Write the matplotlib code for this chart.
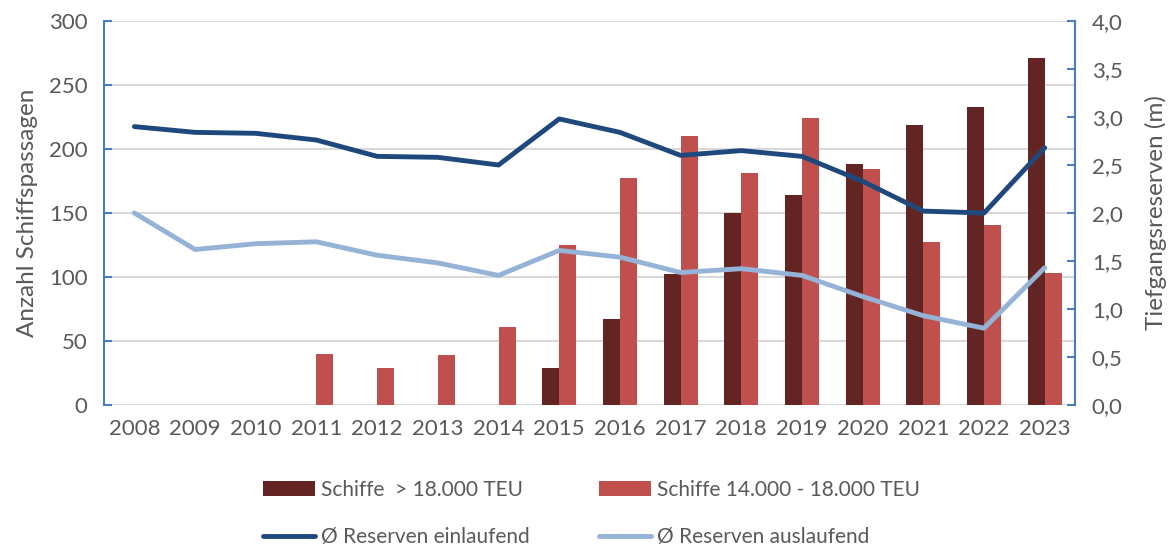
import numpy as np
import matplotlib
matplotlib.use("Agg")
import matplotlib.pyplot as plt

plt.rcParams['font.family'] = ['Lato', 'DejaVu Sans']

# Daten
jahre = [str(j) for j in range(2008, 2024)]
schiffe_gross = [0, 0, 0, 0, 0, 0, 0, 29, 67, 102, 150, 164, 188, 219, 233, 271]
schiffe_mittel = [0, 0, 0, 40, 29, 39, 61, 125, 177, 210, 181, 224, 184, 127, 141, 103]
reserve_ein = [2.90, 2.84, 2.83, 2.76, 2.59, 2.58, 2.50, 2.98, 2.84, 2.60, 2.65, 2.59, 2.33, 2.02, 2.00, 2.68]
reserve_aus = [2.00, 1.62, 1.68, 1.70, 1.56, 1.48, 1.35, 1.61, 1.54, 1.38, 1.42, 1.35, 1.13, 0.93, 0.80, 1.43]

grau = '#595959'
achse = '#4A7EBB'

fig = plt.figure(figsize=(11.73, 5.47), dpi=100)
ax = fig.add_axes([0.0887, 0.2596, 0.8278, 0.702])
ax2 = ax.twinx()

x = np.arange(len(jahre))
w = 0.28
b1 = ax.bar(x - w / 2, schiffe_gross, w, color='#632523', label='Schiffe  > 18.000 TEU', zorder=2)
b2 = ax.bar(x + w / 2, schiffe_mittel, w, color='#C0504D', label='Schiffe 14.000 - 18.000 TEU', zorder=2)
l1, = ax2.plot(x, reserve_ein, color='#1F497D', lw=3.5, solid_capstyle='round',
               label='Ø Reserven einlaufend')
l2, = ax2.plot(x, reserve_aus, color='#95B3D7', lw=3.5, solid_capstyle='round',
               label='Ø Reserven auslaufend')

ax.set_xlim(-0.5, len(jahre) - 0.5)
ax.set_ylim(0, 300)
ax.set_yticks(range(0, 301, 50))
ax2.set_ylim(0, 4)
ax2.set_yticks(np.arange(0, 4.01, 0.5))
ax2.set_yticklabels([f'{v:.1f}'.replace('.', ',') for v in np.arange(0, 4.01, 0.5)])

ax.set_xticks(x)
ax.set_xticklabels(jahre)
ax.yaxis.grid(True, color='#D9D9D9', lw=1.5, zorder=0)
ax.set_axisbelow(True)

for a in (ax, ax2):
    for s in ('top', 'bottom'):
        a.spines[s].set_visible(False)
ax2.spines['left'].set_visible(False)
ax.spines['right'].set_visible(False)
ax.spines['left'].set_color(achse)
ax.spines['left'].set_linewidth(1.5)
ax2.spines['right'].set_color(achse)
ax2.spines['right'].set_linewidth(1.5)

ax.tick_params(axis='y', direction='in', length=6, width=1.5, color=achse,
               labelsize=16, labelcolor=grau, pad=12)
ax2.tick_params(axis='y', direction='in', length=6, width=1.5, color=achse,
                labelsize=16, labelcolor=grau, pad=12)
ax.tick_params(axis='x', length=0, labelsize=16, labelcolor=grau, pad=10)

ax.set_ylabel('Anzahl Schiffspassagen', fontsize=17.5, color=grau, labelpad=8)
ax2.set_ylabel('Tiefgangsreserven (m)', fontsize=17.5, color=grau, labelpad=16)

fig.legend([b1, l1, b2, l2],
           [b1.get_label(), l1.get_label(), b2.get_label(), l2.get_label()],
           loc='upper left', bbox_to_anchor=(0.224, 0.123), ncol=2, frameon=False,
           fontsize=15, labelcolor=grau, handlelength=2.5, handletextpad=0.3,
           columnspacing=3.3, labelspacing=1.3, borderaxespad=0, borderpad=0)

fig.savefig('out.png', dpi=100)
